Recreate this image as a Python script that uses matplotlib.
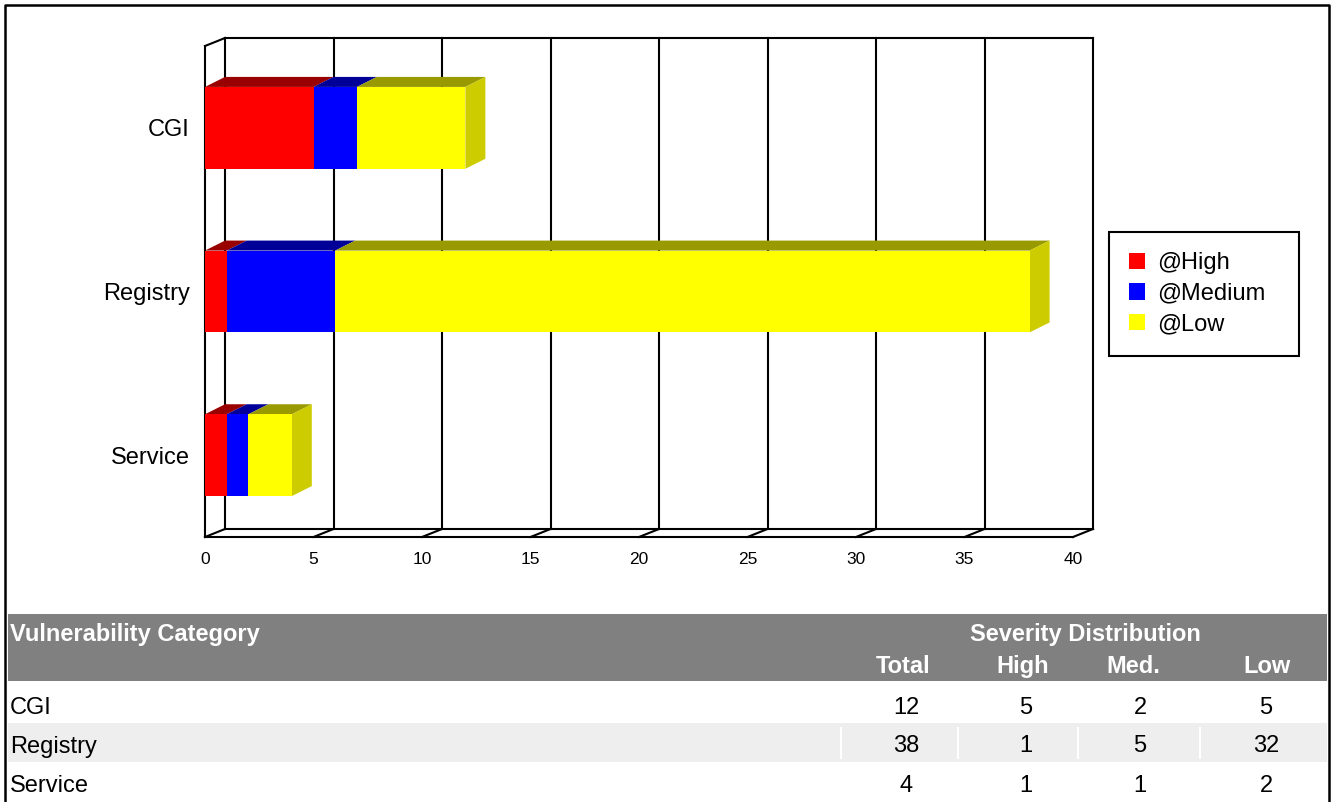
import matplotlib
matplotlib.use('Agg')
import matplotlib.pyplot as plt
from matplotlib.patches import Polygon, Patch, Rectangle

plt.rcParams['font.family'] = ['Liberation Sans', 'DejaVu Sans']

# Data
CATEGORIES = ["CGI", "Registry", "Service"]
HIGH = [5, 1, 1]
MEDIUM = [2, 5, 1]
LOW = [5, 32, 2]
SERIES_LABELS = ["@High", "@Medium", "@Low"]
X_TICKS = [0, 5, 10, 15, 20, 25, 30, 35, 40]
TABLE_TITLE = "Vulnerability Category"
TABLE_GROUP = "Severity Distribution"
TABLE_COLUMNS = ["Total", "High", "Med.", "Low"]

# Styles
FRONT = ["#FF0000", "#0000FF", "#FFFF00"]
TOP = ["#990000", "#000099", "#999900"]
SIDE = ["#CC0000", "#0000CC", "#CCCC00"]
LINE_W = 1.5

W, H = 1332, 802
fig = plt.figure(figsize=(W / 100, H / 100), dpi=100)


def fig_rect(x0, y0, x1, y1):
    """pixel box (top-left origin) -> figure fraction rect"""
    return [x0 / W, 1 - y1 / H, (x1 - x0) / W, (y1 - y0) / H]


# Chart: front plane of the pseudo-3D box
ax = fig.add_axes(fig_rect(205, 46, 1073, 537))
x_min, x_max = X_TICKS[0], X_TICKS[-1]
y_top, y_bot = -0.5, len(CATEGORIES) - 0.5
ax.set_xlim(x_min, x_max)
ax.set_ylim(y_bot, y_top)
for s in ax.spines.values():
    s.set_visible(False)
ax.set_xticks(X_TICKS, [str(v) for v in X_TICKS])
ax.set_yticks(range(len(CATEGORIES)), CATEGORIES)
ax.tick_params(axis='x', length=0, pad=10.5, labelsize=12.5)
ax.tick_params(axis='y', length=0, pad=11, labelsize=17)
ax.patch.set_visible(False)

# depth offsets in data units
px_x = ax.bbox.width / (x_max - x_min)
px_y = ax.bbox.height / (y_bot - y_top)
wdx, wdy = 20 / px_x, 8 / px_y
bdx, bdy = 20 / px_x, 10 / px_y


def line(xs, ys):
    ax.plot(xs, ys, color="black", lw=LINE_W, clip_on=False, zorder=1,
            solid_capstyle='projecting')


# back wall
line([x_min + wdx, x_max + wdx], [y_top - wdy, y_top - wdy])
line([x_min + wdx, x_max + wdx], [y_bot - wdy, y_bot - wdy])
for v in X_TICKS:
    line([v + wdx, v + wdx], [y_top - wdy, y_bot - wdy])
# left wall
line([x_min, x_min], [y_top, y_bot])
line([x_min, x_min + wdx], [y_top, y_top - wdy])
# floor
line([x_min, x_max], [y_bot, y_bot])
for v in X_TICKS:
    line([v, v + wdx], [y_bot, y_bot - wdy])

# stacked 3D bars
half = 0.25
for i, cat in enumerate(CATEGORIES):
    left = 0
    segs = [HIGH[i], MEDIUM[i], LOW[i]]
    for j, w in enumerate(segs):
        y0, y1 = i - half, i + half
        ax.add_patch(Rectangle((left, y0), w, y1 - y0, facecolor=FRONT[j],
                               edgecolor='none', zorder=3, clip_on=False))
        ax.add_patch(Polygon([(left, y0), (left + w, y0), (left + w + bdx, y0 - bdy),
                              (left + bdx, y0 - bdy)], closed=True,
                             facecolor=TOP[j], edgecolor='none', zorder=2, clip_on=False))
        left += w
    ax.add_patch(Polygon([(left, i - half), (left + bdx, i - half - bdy),
                          (left + bdx, i + half - bdy), (left, i + half)], closed=True,
                         facecolor=SIDE[len(segs) - 1], edgecolor='none', zorder=2,
                         clip_on=False))

handles = [Patch(facecolor=c, edgecolor='none') for c in FRONT]
leg = ax.legend(handles, SERIES_LABELS, loc='upper left', mode='expand',
                bbox_to_anchor=fig_rect(1109, 232, 1299, 353),
                bbox_transform=fig.transFigure, fontsize=17, frameon=True,
                fancybox=False, edgecolor='black', framealpha=1,
                handlelength=0.68, handleheight=0.68, handletextpad=0.5,
                borderpad=0.85, labelspacing=0.37, borderaxespad=0)
leg.get_frame().set_linewidth(LINE_W)

# Table + outer border on a pixel-space overlay
ov = fig.add_axes([0, 0, 1, 1], zorder=-1)
ov.set_xlim(0, W)
ov.set_ylim(H, 0)
ov.axis('off')

ov.add_patch(Rectangle((8, 614), 1319, 67, facecolor="#808080", edgecolor='none'))
ov.add_patch(Rectangle((8, 723), 1319, 39, facecolor="#EEEEEE", edgecolor='none'))
for x in [841, 958, 1078, 1200]:
    ov.plot([x, x], [728, 758], color="white", lw=1.5)

hdr = dict(color="white", fontsize=17, fontweight="bold", va="center_baseline")
ov.text(10, 632, TABLE_TITLE, ha="left", **hdr)
ov.text(1085, 632, TABLE_GROUP, ha="center", **hdr)
for cx, name in zip([903, 1023, 1133, 1267], TABLE_COLUMNS):
    ov.text(cx, 664, name, ha="center", **hdr)

row_y = [705, 744, 783]
col_x = [906, 1026, 1140, 1266]
for i, cat in enumerate(CATEGORIES):
    ov.text(10, row_y[i], cat, ha="left", va="center_baseline", fontsize=17)
    vals = [HIGH[i] + MEDIUM[i] + LOW[i], HIGH[i], MEDIUM[i], LOW[i]]
    for cx, v in zip(col_x, vals):
        ov.text(cx, row_y[i], str(v), ha="center", va="center_baseline", fontsize=17)

# outer frame (open at the bottom)
ov.plot([5, 5, 1329, 1329], [H, 5, 5, H], color="black", lw=1.8)

fig.savefig("out.png", dpi=100)
